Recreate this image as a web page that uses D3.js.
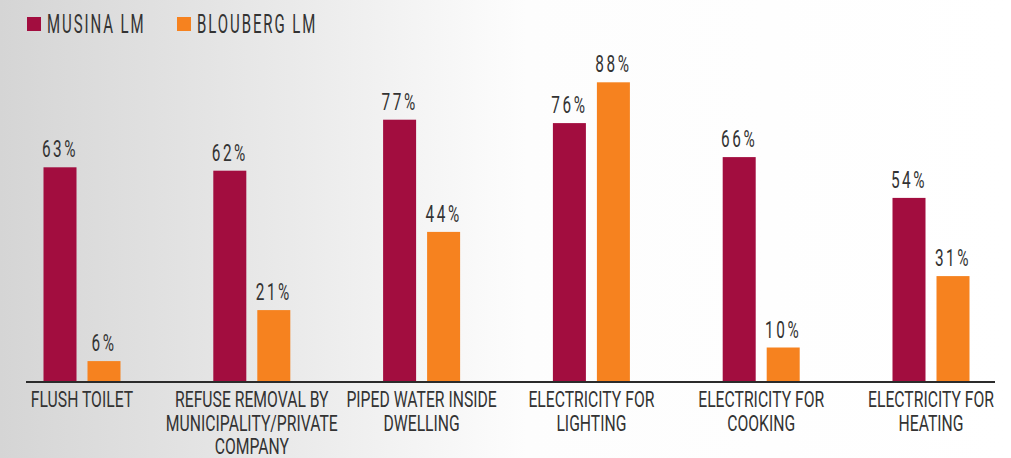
<!DOCTYPE html>
<html>
<head>
<meta charset="utf-8">
<script src="https://cdn.jsdelivr.net/npm/d3@7"></script>
<style>
  html, body { margin: 0; padding: 0; background: #fff; }
  svg { display: block; }
  text { font-family: Roboto, "Liberation Sans Narrow", sans-serif; font-weight: 400; fill: #333; }
</style>
</head>
<body>
<svg id="chart"></svg>
<script>
const categories = ['flush', 'refuse', 'water', 'lighting', 'cooking', 'heating'];
const categoryLines = [
  ['FLUSH TOILET'],
  ['REFUSE REMOVAL BY', 'MUNICIPALITY/PRIVATE', 'COMPANY'],
  ['PIPED WATER INSIDE', 'DWELLING'],
  ['ELECTRICITY FOR', 'LIGHTING'],
  ['ELECTRICITY FOR', 'COOKING'],
  ['ELECTRICITY FOR', 'HEATING'],
];
const seriesNames = ['MUSINA LM', 'BLOUBERG LM'];
const musina = [63, 62, 77, 76, 66, 54];
const blouberg = [6, 21, 44, 88, 10, 31];
const colors = ['#a20d3f', '#f6821f'];

const width = 1011, height = 458;
const margin = {left: 26, right: 16, top: 41.5, bottom: 76.5};

const svg = d3.select('#chart')
  .attr('width', width)
  .attr('height', height);

const grad = svg.append('defs').append('linearGradient')
  .attr('id', 'bg')
  .attr('x1', 0).attr('x2', 1).attr('y1', 0).attr('y2', 0);
grad.append('stop').attr('offset', 0).attr('stop-color', '#d5d5d5');
grad.append('stop').attr('offset', 0.3).attr('stop-color', '#ebebeb');
grad.append('stop').attr('offset', 0.52).attr('stop-color', '#fdfdfd');
grad.append('stop').attr('offset', 1).attr('stop-color', '#ffffff');
svg.append('rect')
  .attr('width', width).attr('height', height)
  .attr('fill', 'url(#bg)');

const x = d3.scalePoint()
  .domain(categories)
  .range([82, 931]);
const xInner = d3.scaleBand()
  .domain(seriesNames)
  .range([-38.5, 38.5])
  .paddingInner(0.25);
const y = d3.scaleLinear()
  .domain([0, 100])
  .range([height - margin.bottom, margin.top]);

// text helper: squeezed horizontally around its anchor to mimic the condensed face
function squeezed(parent, tx, ty, str, size, sx, spacing, anchor) {
  return parent.append('g')
    .attr('transform', `translate(${tx},${ty}) scale(${sx},1)`)
    .append('text')
      .attr('text-anchor', anchor || 'middle')
      .attr('font-size', size)
      .attr('letter-spacing', spacing || 0)
      .text(str);
}

const data = categories.map((c, i) => ({cat: c, values: [musina[i], blouberg[i]]}));

const groups = svg.selectAll('g.group')
  .data(data)
  .enter()
  .append('g')
    .attr('class', 'group')
    .attr('transform', d => `translate(${x(d.cat)},0)`);

groups.each(function(d) {
  const g = d3.select(this);
  d.values.forEach((v, j) => {
    const bx = xInner(seriesNames[j]);
    g.append('rect')
      .attr('x', bx)
      .attr('width', xInner.bandwidth())
      .attr('y', y(v))
      .attr('height', y(0) - y(v))
      .attr('fill', colors[j]);
    squeezed(g, bx + xInner.bandwidth() / 2, y(v) - 10, `${v}%`, 24, 0.64, 4);
  });
});

// baseline
svg.append('line')
  .attr('x1', margin.left)
  .attr('x2', width - margin.right)
  .attr('y1', y(0) + 0.5)
  .attr('y2', y(0) + 0.5)
  .attr('stroke', '#2b2b2b')
  .attr('stroke-width', 2);

// category labels
categories.forEach((c, i) => {
  categoryLines[i].forEach((line, k) => {
    squeezed(svg, x(c), y(0) + 25.5 + k * 23.5, line, 22, 0.715, 0);
  });
});

// legend
const legend = svg.append('g').attr('class', 'legend');
const legendX = [27, 177];
seriesNames.forEach((s, i) => {
  legend.append('rect')
    .attr('x', legendX[i])
    .attr('y', 17)
    .attr('width', 14)
    .attr('height', 14)
    .attr('fill', colors[i]);
  squeezed(legend, legendX[i] + 20, 32.5, s, 25, 0.6, 3.2, 'start');
});
</script>
</body>
</html>
